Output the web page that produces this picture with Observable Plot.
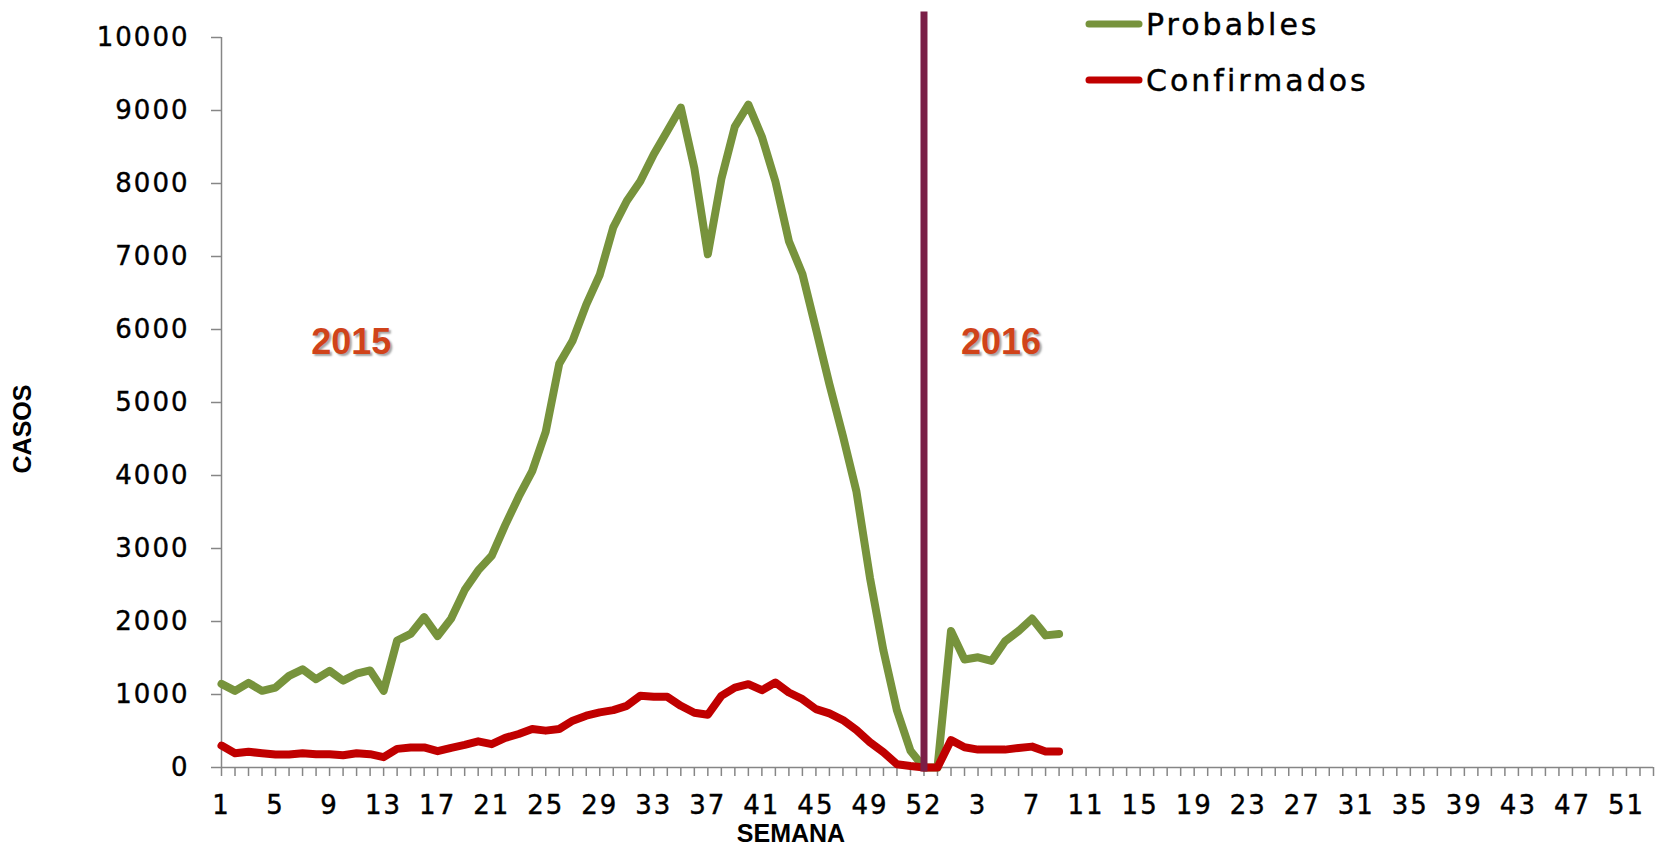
<!DOCTYPE html>
<html>
<head>
<meta charset="utf-8">
<script src="https://cdn.jsdelivr.net/npm/d3@7"></script>
<script src="https://cdn.jsdelivr.net/npm/@observablehq/plot@0.6"></script>
<style>
  html, body { margin: 0; padding: 0; background: #fff; overflow: hidden; }
  #chart { position: relative; width: 1655px; height: 849px; }
  g[aria-label="y-axis tick label"] text { letter-spacing: 2px; stroke: black; stroke-width: 0.4px; }
  g[aria-label="x-axis tick label"] text { letter-spacing: 2px; stroke: black; stroke-width: 0.4px; }
  .anio { text-shadow: 2px 2px 2px rgba(0,0,0,0.35); }
</style>
</head>
<body>
<div id="chart"></div>
<script>
// ---- Data ----
const semanas2015 = ["1","2","3","4","5","6","7","8","9","10","11","12","13","14","15","16","17","18","19","20","21","22","23","24","25","26","27","28","29","30","31","32","33","34","35","36","37","38","39","40","41","42","43","44","45","46","47","48","49","50","51","52"];
const semanasCorte = ["52", ""];
const semanas2016 = ["1","2","3","4","5","6","7","8","9","10","11","12","13","14","15","16","17","18","19","20","21","22","23","24","25","26","27","28","29","30","31","32","33","34","35","36","37","38","39","40","41","42","43","44","45","46","47","48","49","50","51","52","53"];
const semanas = [...semanas2015, ...semanasCorte, ...semanas2016];

const probables = [1145,1050,1160,1050,1095,1255,1345,1210,1325,1190,1285,1330,1050,1740,1830,2060,1800,2040,2430,2700,2900,3320,3710,4060,4600,5530,5850,6340,6750,7400,7760,8030,8400,8720,9040,8210,7030,8060,8780,9080,8640,8030,7210,6760,6010,5250,4540,3780,2600,1600,780,230,0,
                   0,1870,1480,1510,1460,1730,1870,2040,1810,1830];
const confirmados = [300,195,215,195,178,178,195,182,182,168,195,182,141,255,275,275,223,270,310,359,320,405,459,527,505,527,641,709,755,786,845,982,968,968,845,750,723,982,1095,1141,1059,1164,1027,936,800,741,650,514,345,209,45,20,0,
                     0,375,277,245,245,245,268,286,218,218];
const series = ["Probables", "Confirmados"];
const colores = ["#77933C", "#C00000"];
const anios = ["2015", "2016"];
const yTicks = [0,1000,2000,3000,4000,5000,6000,7000,8000,9000,10000];

const corteIndex = semanas2015.length; // separator between years
const filasP = probables.map((v, i) => ({i, v}));
const filasC = confirmados.map((v, i) => ({i, v}));
const anioPos = [{t: anios[0], i: 9.6, y: 5820}, {t: anios[1], i: 57.7, y: 5820}];

const gris = "#868686";

const chart = Plot.plot({
  width: 1655,
  height: 849,
  marginLeft: 221,
  marginRight: 2,
  marginTop: 37,
  marginBottom: 82,
  style: {fontFamily: "DejaVu Sans", fontSize: "26px", background: "white", color: "black"},
  x: {type: "linear", domain: [0, semanas.length - 1], axis: null, label: null},
  y: {type: "linear", domain: [0, 10000], axis: null, label: null},
  marks: [
    Plot.ruleX([0], {y1: 0, y2: 10000, stroke: gris, strokeWidth: 1.5}),
    Plot.ruleY([0], {x1: 0, x2: semanas.length - 1, stroke: gris, strokeWidth: 1.5}),
    Plot.axisY({ticks: yTicks, tickSize: 10, tickPadding: 22, tickFormat: d => String(d),
                stroke: gris, fill: "black", strokeWidth: 1.5, label: null}),
    Plot.axisX({ticks: d3.range(0, semanas.length), tickSize: 9, tickPadding: 19,
                tickFormat: (d) => d % 4 === 0 ? semanas[d] : "",
                stroke: gris, fill: "black", strokeWidth: 1.5, label: null}),
    Plot.line(filasP, {x: "i", y: "v", stroke: colores[0], strokeWidth: 8, strokeLinejoin: "round", strokeLinecap: "round"}),
    Plot.line(filasC, {x: "i", y: "v", stroke: colores[1], strokeWidth: 8, strokeLinejoin: "round", strokeLinecap: "round"}),
    Plot.ruleX([corteIndex], {y1: -60, y2: 10350, stroke: "#7A1F47", strokeWidth: 7, clip: false}),
    Plot.text(anioPos, {x: "i", y: "y", text: "t", fill: "#D0431A", fontSize: 36, fontWeight: "bold",
                        fontFamily: "Liberation Sans, Arial, sans-serif", className: "anio"})
  ]
});

document.getElementById("chart").appendChild(chart);

// Axis titles and legend
const svg = d3.select(chart);
svg.append("text")
  .attr("transform", "translate(31,429) rotate(-90)")
  .attr("text-anchor", "middle")
  .attr("font-family", "Liberation Sans, Arial, sans-serif")
  .attr("font-weight", "bold")
  .attr("font-size", 25)
  .attr("fill", "black")
  .text("CASOS");
svg.append("text")
  .attr("x", 791).attr("y", 842)
  .attr("text-anchor", "middle")
  .attr("font-family", "Liberation Sans, Arial, sans-serif")
  .attr("font-weight", "bold")
  .attr("font-size", 25)
  .attr("fill", "black")
  .text("SEMANA");

const leg = svg.append("g");
series.forEach((s, k) => {
  const cy = 24 + k * 56;
  leg.append("line")
    .attr("x1", 1089).attr("x2", 1139).attr("y1", cy).attr("y2", cy)
    .attr("stroke", colores[k]).attr("stroke-width", 7).attr("stroke-linecap", "round");
  leg.append("text")
    .attr("x", 1146).attr("y", cy + 11)
    .attr("text-anchor", "start")
    .attr("font-family", "DejaVu Sans")
    .attr("font-size", 30)
    .attr("letter-spacing", "3px")
    .attr("fill", "black")
    .attr("stroke", "black")
    .attr("stroke-width", 0.4)
    .text(s);
});
</script>
</body>
</html>
